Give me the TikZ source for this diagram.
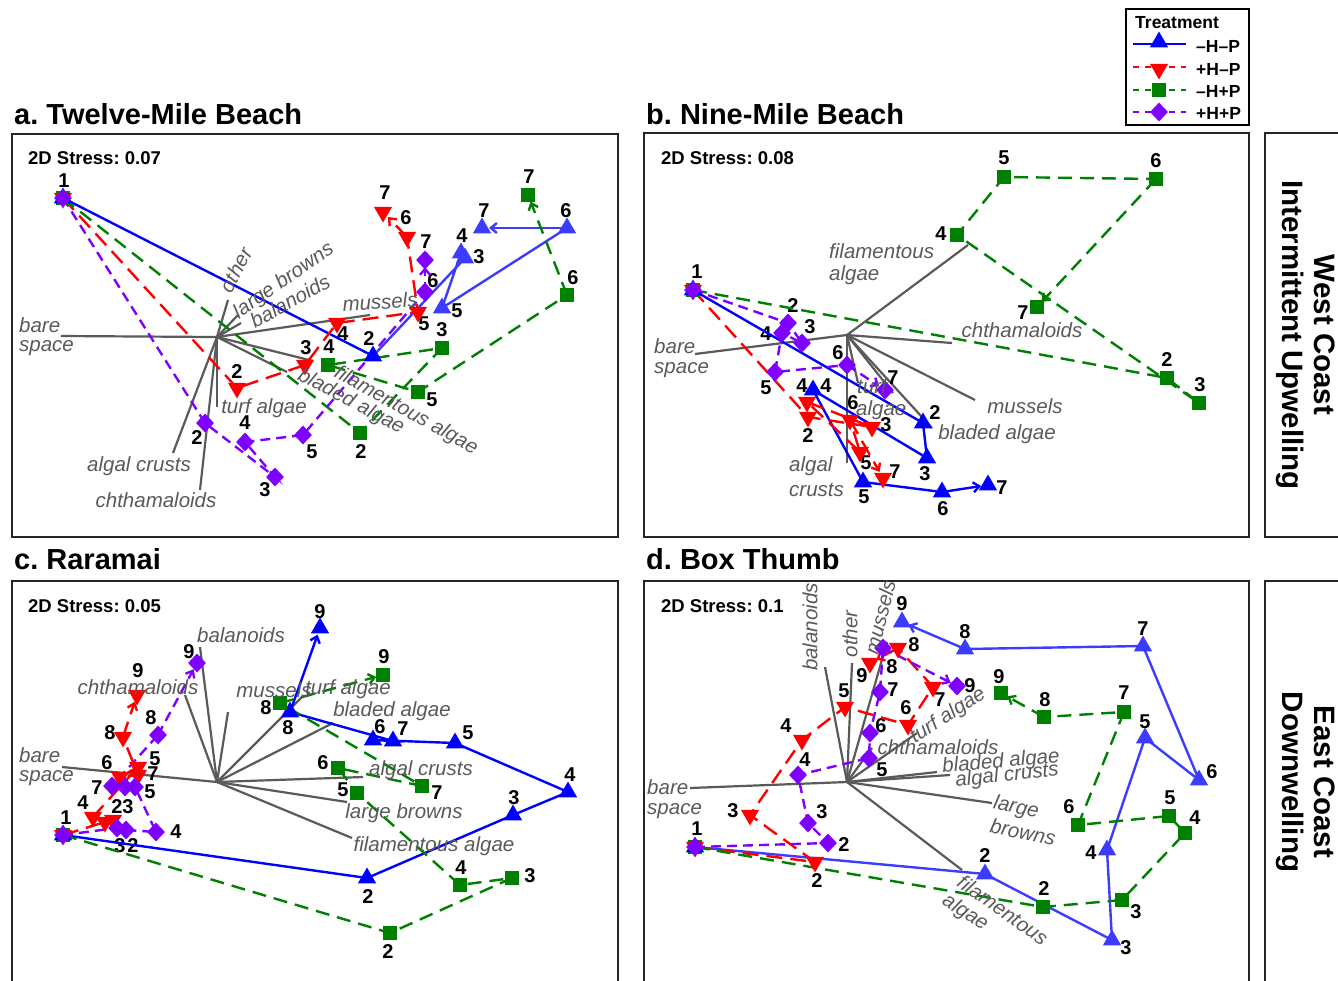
\documentclass[tikz,border=0pt]{standalone}
\usepackage{fontspec}
\setmainfont{Liberation Sans}
\usetikzlibrary{shapes.geometric,arrows.meta}
\definecolor{cB}{RGB}{0,0,255}
\definecolor{cBl}{RGB}{60,60,255}
\definecolor{cR}{RGB}{255,0,0}
\definecolor{cG}{RGB}{0,128,0}
\definecolor{cP}{RGB}{128,0,255}
\definecolor{cK}{RGB}{90,90,90}
\tikzset{
 bl/.style={cB,line width=2.4pt},
 bll/.style={cBl,line width=2.4pt},
 rd/.style={cR,line width=2.4pt,dash pattern=on 16pt off 8pt},
 gr/.style={cG,line width=2.4pt,dash pattern=on 14pt off 8pt},
 pu/.style={cP,line width=2.4pt,dash pattern=on 10pt off 6pt},
 arr/.style={-{Straight Barb[length=6pt,width=10pt]},shorten >=7pt},
 tri/.style={regular polygon,regular polygon sides=3,fill=cB,inner sep=0pt,minimum size=21pt},
 tril/.style={tri,fill=cBl},
 tdn/.style={regular polygon,regular polygon sides=3,shape border rotate=180,fill=cR,inner sep=0pt,minimum size=21pt},
 sqr/.style={rectangle,fill=cG,inner sep=0pt,minimum size=14pt},
 dia/.style={diamond,fill=cP,inner sep=0pt,minimum width=18pt,minimum height=19pt},
 num/.style={font=\fontsize{20}{20}\selectfont\bfseries,inner sep=0pt},
 spk/.style={cK,line width=2.2pt},
 vlab/.style={text=cK,font=\fontsize{20.5}{20.5}\selectfont\itshape,inner sep=0pt},
 vlw/.style={vlab,anchor=west},
 ttl/.style={font=\fontsize{29}{29}\selectfont\bfseries,inner sep=0pt,anchor=west},
 strs/.style={font=\fontsize{18.5}{18.5}\selectfont\bfseries,inner sep=0pt,anchor=west},
 frm/.style={line width=2.5pt,draw=black!85},
 side/.style={font=\fontsize{29.5}{29.5}\selectfont\bfseries,inner sep=0pt,rotate=-90},
 legt/.style={font=\fontsize{17.5}{17.5}\selectfont\bfseries,inner sep=0pt,anchor=west},
 legd/.style={dash pattern=on 6pt off 6pt},
}
\newcommand\mkpt[4]{\coordinate (#1) at (#2); \node[num] (#1n) at (#3) {#4};}
\newcommand\spoke[3]{\coordinate (#2) at (#3); \draw[spk] (#1) -- (#2);}
\frenchspacing
\begin{document}
\begin{tikzpicture}[x=1pt,y=-1pt]
\path[use as bounding box] (0,0) rectangle (1338,980);
\clip (0,0) rectangle (1338,980);
\fill[white] (0,0) rectangle (1338,980);

% ---------- titles, frames ----------
\node[ttl] (ta) at (14,114) {a. Twelve-Mile Beach};
\node[ttl] (tb) at (646,114) {b. Nine-Mile Beach};
\node[ttl] (tc) at (14,559) {c. Raramai};
\node[ttl] (td) at (646,559) {d. Box Thumb};
\draw[frm] (12,134) rectangle (618,537);
\draw[frm] (644,133) rectangle (1249,537);
\draw[frm] (12,581) rectangle (618,995);
\draw[frm] (644,581) rectangle (1249,995);
\draw[frm] (1265,133) rectangle (1350,537);
\draw[frm] (1265,581) rectangle (1350,995);
\node[side] (s1) at (1325,335) {West Coast};
\node[side] (s2) at (1290,335) {Intermittent Upwelling};
\node[side] (s3) at (1325,782) {East Coast};
\node[side] (s4) at (1290,782) {Downwelling};
\node[strs] (sa) at (28,158) {2D Stress: 0.07};
\node[strs] (sb) at (661,158) {2D Stress: 0.08};
\node[strs] (sc) at (28,606) {2D Stress: 0.05};
\node[strs] (sd) at (661,606) {2D Stress: 0.1};

% ---------- legend ----------
\draw[line width=2pt] (1126,9) rectangle (1249,125);
\node[legt] (lt) at (1135,23) {Treatment};
\coordinate (lb1) at (1133,44); \coordinate (lb2) at (1186,44);
\coordinate (lr1) at (1133,67); \coordinate (lr2) at (1186,67);
\coordinate (lg1) at (1133,90); \coordinate (lg2) at (1186,90);
\coordinate (lp1) at (1133,112); \coordinate (lp2) at (1186,112);
\draw[bl] (lb1) -- (lb2);
\draw[cR,line width=2.4pt,legd] (lr1) -- (lr2);
\draw[cG,line width=2.4pt,legd] (lg1) -- (lg2);
\draw[cP,line width=2.4pt,legd] (lp1) -- (lp2);
\node[tri] (lbm) at (1159,42) {};
\node[tdn] (lrm) at (1159,69) {};
\node[sqr] (lgm) at (1159,90) {};
\node[dia] (lpm) at (1159,112) {};
\node[legt] (lbt) at (1196,46) {–H–P};
\node[legt] (lrt) at (1196,69) {+H–P};
\node[legt] (lgt) at (1196,91) {–H+P};
\node[legt] (lpt) at (1196,113) {+H+P};

% =================== PANEL A ===================
\coordinate (ac) at (217,337);
\spoke{ac}{as1}{61,336}
\spoke{ac}{as2}{228,300}
\spoke{ac}{as3}{238,315}
\spoke{ac}{as4}{241,323}
\spoke{ac}{as5}{370,315}
\spoke{ac}{as6}{313,361}
\spoke{ac}{as7}{287,372}
\spoke{ac}{as8}{217,407}
\spoke{ac}{as9}{173,453}
\spoke{ac}{as10}{200,490}

\mkpt{a1}{63,198}{64,181}{1}
\mkpt{ab2}{373,356}{369,339}{2}
\mkpt{ab3}{465,258}{479,257}{3}
\mkpt{ab4}{461,253}{462,236}{4}
\mkpt{ab5}{442,308}{457,311}{5}
\mkpt{ab6}{567,228}{566,211}{6}
\mkpt{ab7}{482,228}{484,211}{7}
\mkpt{ar2}{237,388}{237,372}{2}
\mkpt{ar3}{305,365}{306,348}{3}
\mkpt{ar4}{337,323}{343,334}{4}
\mkpt{ar5}{418,312}{424,324}{5}
\mkpt{ar6}{407,237}{406,218}{6}
\mkpt{ar7}{383,212}{385,193}{7}
\mkpt{ag2}{360,433}{361,452}{2}
\mkpt{ag3}{442,348}{442,330}{3}
\mkpt{ag4}{328,365}{329,347}{4}
\mkpt{ag5}{418,392}{432,400}{5}
\mkpt{ag6}{567,295}{573,278}{6}
\mkpt{ag7}{528,195}{529,177}{7}
\mkpt{ap2}{205,423}{197,438}{2}
\mkpt{ap3}{275,477}{265,490}{3}
\mkpt{ap4}{245,442}{245,423}{4}
\mkpt{ap5}{303,435}{312,452}{5}
\mkpt{ap6}{425,292}{433,281}{6}
\mkpt{ap7}{425,260}{426,242}{7}

\draw[bl] (a1) -- (ab2);
\draw[bll] (ab2) -- (ab3) -- (ab4) -- (ab5) -- (ab6);
\draw[bll,arr] (ab6) -- (ab7);
\draw[rd] (a1) -- (ar2) -- (ar3) -- (ar4) -- (ar5) -- (ar6);
\draw[rd,arr] (ar6) -- (ar7);
\draw[gr] (a1) -- (ag2) -- (ag3) -- (ag4) -- (ag5) -- (ag6);
\draw[gr,arr] (ag6) -- (ag7);
\draw[pu] (a1) -- (ap2) -- (ap3) -- (ap4) -- (ap5) -- (ap6);
\draw[pu,arr] (ap6) -- (ap7);

% =================== PANEL B ===================
\coordinate (bc) at (847,335);
\spoke{bc}{bs1}{695,354}
\spoke{bc}{bs2}{968,245}
\spoke{bc}{bs3}{952,343}
\spoke{bc}{bs4}{975,400}
\spoke{bc}{bs5}{932,428}
\spoke{bc}{bs6}{858,383}
\spoke{bc}{bs7}{847,463}
\spoke{bc}{bs8}{893,393}

\mkpt{b1}{693,290}{697,272}{1}
\mkpt{bb2}{923,423}{935,413}{2}
\mkpt{bb3}{927,458}{925,474}{3}
\mkpt{bb4}{813,390}{826,386}{4}
\mkpt{bb5}{863,482}{864,497}{5}
\mkpt{bb6}{942,492}{943,509}{6}
\mkpt{bb7}{988,485}{1002,488}{7}
\mkpt{br2}{808,417}{808,436}{2}
\mkpt{br3}{872,427}{886,425}{3}
\mkpt{br4}{807,402}{802,386}{4}
\mkpt{br5}{860,452}{866,463}{5}
\mkpt{br6}{850,420}{853,403}{6}
\mkpt{br7}{883,478}{895,472}{7}
\mkpt{bg2}{1167,378}{1167,360}{2}
\mkpt{bg3}{1199,403}{1200,385}{3}
\mkpt{bg4}{957,235}{941,234}{4}
\mkpt{bg5}{1004,177}{1004,158}{5}
\mkpt{bg6}{1156,179}{1156,161}{6}
\mkpt{bg7}{1037,307}{1023,313}{7}
\mkpt{bp2}{788,323}{793,306}{2}
\mkpt{bp3}{802,343}{810,327}{3}
\mkpt{bp4}{782,333}{766,334}{4}
\mkpt{bp5}{775,372}{766,388}{5}
\mkpt{bp6}{847,365}{838,353}{6}
\mkpt{bp7}{885,390}{893,378}{7}

\draw[bl] (b1) -- (bb2) -- (bb3) -- (bb4) -- (bb5) -- (bb6);
\draw[bl,arr] (bb6) -- (bb7);
\draw[rd] (b1) -- (br2) -- (br3) -- (br4) -- (br5) -- (br6);
\draw[rd,arr] (br6) -- (br7);
\draw[gr] (b1) -- (bg2) -- (bg3) -- (bg4) -- (bg5) -- (bg6);
\draw[gr,arr] (bg6) -- (bg7);
\draw[pu] (b1) -- (bp2) -- (bp3) -- (bp4) -- (bp5) -- (bp6);
\draw[pu,arr] (bp6) -- (bp7);

% =================== PANEL C ===================
\coordinate (cc) at (217,782);
\spoke{cc}{cs1}{62,767}
\spoke{cc}{cs2}{185,695}
\spoke{cc}{cs3}{200,647}
\spoke{cc}{cs4}{228,712}
\spoke{cc}{cs5}{302,697}
\spoke{cc}{cs6}{333,723}
\spoke{cc}{cs7}{363,777}
\spoke{cc}{cs8}{347,802}
\spoke{cc}{cs9}{352,838}

\mkpt{c1}{63,835}{66,818}{1}
\mkpt{cb2}{367,878}{368,897}{2}
\mkpt{cb3}{513,815}{514,798}{3}
\mkpt{cb4}{568,792}{570,775}{4}
\mkpt{cb5}{455,743}{468,733}{5}
\mkpt{cb6}{373,740}{380,727}{6}
\mkpt{cb7}{393,741}{403,729}{7}
\mkpt{cb8}{290,712}{288,728}{8}
\mkpt{cb9}{320,628}{320,612}{9}
\mkpt{cr2}{105,822}{117,807}{2}
\mkpt{cr3}{113,820}{128,807}{3}
\mkpt{cr4}{93,817}{83,803}{4}
\mkpt{cr5}{138,767}{155,759}{5}
\mkpt{cr6}{120,777}{107,763}{6}
\mkpt{cr7}{138,775}{153,774}{7}
\mkpt{cr8}{123,737}{110,733}{8}
\mkpt{cr9}{137,695}{138,671}{9}
\mkpt{cg2}{390,933}{388,952}{2}
\mkpt{cg3}{512,878}{530,876}{3}
\mkpt{cg4}{460,885}{461,868}{4}
\mkpt{cg5}{357,793}{343,790}{5}
\mkpt{cg6}{338,768}{323,763}{6}
\mkpt{cg7}{422,786}{437,793}{7}
\mkpt{cg8}{280,703}{266,708}{8}
\mkpt{cg9}{383,675}{384,657}{9}
\mkpt{cp2}{126,830}{133,846}{2}
\mkpt{cp3}{117,828}{120,846}{3}
\mkpt{cp4}{156,832}{176,832}{4}
\mkpt{cp5}{135,787}{150,792}{5}
\coordinate (cp6) at (125,787);
\mkpt{cp7}{112,786}{97,788}{7}
\mkpt{cp8}{158,735}{151,718}{8}
\mkpt{cp9}{197,663}{189,652}{9}

\draw[bl] (c1) -- (cb2) -- (cb3) -- (cb4) -- (cb5) -- (cb6) -- (cb7) -- (cb8);
\draw[bl,arr] (cb8) -- (cb9);
\draw[rd] (c1) -- (cr2) -- (cr3) -- (cr4) -- (cr5) -- (cr6) -- (cr7) -- (cr8);
\draw[rd,arr] (cr8) -- (cr9);
\draw[gr] (c1) -- (cg2) -- (cg3) -- (cg4) -- (cg5) -- (cg6) -- (cg7) -- (cg8);
\draw[gr,arr] (cg8) -- (cg9);
\draw[pu] (c1) -- (cp3) -- (cp2) -- (cp4) -- (cp5) -- (cp6) -- (cp7) -- (cp8);
\draw[pu,arr] (cp8) -- (cp9);

% =================== PANEL D ===================
\coordinate (dc) at (847,782);
\spoke{dc}{ds1}{690,788}
\spoke{dc}{ds2}{825,667}
\spoke{dc}{ds3}{852,663}
\spoke{dc}{ds4}{887,642}
\spoke{dc}{ds5}{917,733}
\spoke{dc}{ds6}{872,748}
\spoke{dc}{ds7}{937,772}
\spoke{dc}{ds8}{950,775}
\spoke{dc}{ds9}{992,803}
\spoke{dc}{ds10}{962,870}

\mkpt{d1}{695,847}{697,829}{1}
\mkpt{db2}{985,874}{985,856}{2}
\mkpt{db3}{1112,940}{1126,948}{3}
\mkpt{db4}{1107,850}{1091,853}{4}
\mkpt{db5}{1145,738}{1145,722}{5}
\mkpt{db6}{1199,780}{1212,772}{6}
\mkpt{db7}{1143,646}{1143,629}{7}
\mkpt{db8}{965,649}{965,632}{8}
\mkpt{db9}{902,622}{902,604}{9}
\mkpt{dr2}{815,862}{817,881}{2}
\mkpt{dr3}{750,815}{733,811}{3}
\mkpt{dr4}{802,740}{786,726}{4}
\mkpt{dr5}{845,707}{844,691}{5}
\mkpt{dr6}{908,725}{906,708}{6}
\mkpt{dr7}{933,687}{940,700}{7}
\mkpt{dr8}{898,648}{914,645}{8}
\mkpt{dr9}{870,663}{862,676}{9}
\mkpt{dg2}{1043,907}{1044,889}{2}
\mkpt{dg3}{1122,900}{1136,912}{3}
\mkpt{dg4}{1185,833}{1195,818}{4}
\mkpt{dg5}{1169,816}{1170,798}{5}
\mkpt{dg6}{1078,825}{1069,807}{6}
\mkpt{dg7}{1124,712}{1124,693}{7}
\mkpt{dg8}{1044,717}{1045,700}{8}
\mkpt{dg9}{1001,693}{999,677}{9}
\mkpt{dp2}{828,843}{844,845}{2}
\mkpt{dp3}{808,823}{822,812}{3}
\mkpt{dp4}{798,775}{805,760}{4}
\mkpt{dp5}{869,758}{882,770}{5}
\mkpt{dp6}{870,733}{881,726}{6}
\mkpt{dp7}{880,692}{893,690}{7}
\mkpt{dp8}{883,648}{892,667}{8}
\mkpt{dp9}{957,686}{970,686}{9}

\draw[bll] (d1) -- (db2) -- (db3) -- (db4) -- (db5) -- (db6) -- (db7) -- (db8);
\draw[bll,arr] (db8) -- (db9);
\draw[rd] (d1) -- (dr2) -- (dr3) -- (dr4) -- (dr5) -- (dr6) -- (dr7) -- (dr8);
\draw[rd,arr] (dr8) -- (dr9);
\draw[gr] (d1) -- (dg2) -- (dg3) -- (dg4) -- (dg5) -- (dg6) -- (dg7) -- (dg8);
\draw[gr,arr] (dg8) -- (dg9);
\draw[pu] (d1) -- (dp2) -- (dp3) -- (dp4) -- (dp5) -- (dp6) -- (dp7) -- (dp8);
\draw[pu,arr] (dp8) -- (dp9);

% =================== MARKERS ===================
\foreach \q in {a1,b1,c1,d1} {
  \node[sqr] (ms\q) at (\q) {};
  \node[tri] (mt\q) at (\q) {};
  \node[tdn] (mr\q) at (\q) {};
  \node[dia] (md\q) at (\q) {};
}
\foreach \q in {ab3,ab4,ab5,ab6,ab7,db2,db3,db4,db5,db6,db7,db8,db9} \node[tril] (m\q) at (\q) {};
\foreach \q in {ab2,bb2,bb3,bb4,bb5,bb6,bb7,cb2,cb3,cb4,cb5,cb6,cb7,cb8,cb9} \node[tri] (m\q) at (\q) {};
\foreach \q in {ar2,ar3,ar4,ar5,ar6,ar7,br2,br3,br4,br5,br6,br7,cr2,cr3,cr4,cr5,cr6,cr7,cr8,cr9,dr2,dr3,dr4,dr5,dr6,dr7,dr8,dr9} \node[tdn] (m\q) at (\q) {};
\foreach \q in {ag2,ag3,ag4,ag5,ag6,ag7,bg2,bg3,bg4,bg5,bg6,bg7,cg2,cg3,cg4,cg5,cg6,cg7,cg8,cg9,dg2,dg3,dg4,dg5,dg6,dg7,dg8,dg9} \node[sqr] (m\q) at (\q) {};
\foreach \q in {ap2,ap3,ap4,ap5,ap6,ap7,bp2,bp3,bp4,bp5,bp6,bp7,cp2,cp3,cp4,cp5,cp6,cp7,cp8,cp9,dp2,dp3,dp4,dp5,dp6,dp7,dp8,dp9} \node[dia] (m\q) at (\q) {};

% =================== VARIABLE LABELS ===================
% panel a
\node[vlw] (va1) at (19,325) {bare};
\node[vlw] (va2) at (19,348) {space};
\node[vlab,rotate=62] (va3) at (236,270) {other};
\node[vlab,rotate=35] (va4) at (284,281) {large browns};
\node[vlab,rotate=29] (va5) at (290,301) {balanoids};
\node[vlab,rotate=4] (va6) at (380,302) {mussels};
\node[vlab] (va7) at (264,408) {turf algae};
\node[vlab,rotate=-28] (va8) at (351,402) {bladed algae};
\node[vlab,rotate=-29] (va9) at (406,411) {filamentous algae};
\node[vlab] (va10) at (139,466) {algal crusts};
\node[vlab] (va11) at (156,500) {chthamaloids};
% panel b
\node[vlw] (vb1) at (654,346) {bare};
\node[vlw] (vb2) at (654,370) {space};
\node[vlw] (vb3) at (829,251) {filamentous};
\node[vlw] (vb4) at (829,275) {algae};
\node[vlab] (vb5) at (1022,330) {chthamaloids};
\node[vlab] (vb6) at (1025,406) {mussels};
\node[vlab] (vb7) at (997,434) {bladed algae};
\node[vlw] (vb8) at (857,386) {turf};
\node[vlw] (vb9) at (856,410) {algae};
\node[vlw] (vb10) at (789,466) {algal};
\node[vlw] (vb11) at (789,490) {crusts};
% panel c
\node[vlw] (vc1) at (19,755) {bare};
\node[vlw] (vc2) at (19,778) {space};
\node[vlab] (vc3) at (241,635) {balanoids};
\node[vlab] (vc4) at (138,687) {chthamaloids};
\node[vlab] (vc5) at (274,690) {mussels};
\node[vlab] (vc6) at (348,689) {turf algae};
\node[vlab] (vc7) at (392,711) {bladed algae};
\node[vlab] (vc8) at (421,770) {algal crusts};
\node[vlab] (vc9) at (404,813) {large browns};
\node[vlab] (vc10) at (434,846) {filamentous algae};
% panel d
\node[vlw] (vd1) at (647,787) {bare};
\node[vlw] (vd2) at (647,811) {space};
\node[vlab,rotate=90] (vd3) at (810,627) {balanoids};
\node[vlab,rotate=90] (vd4) at (850,634) {other};
\node[vlab,rotate=76] (vd5) at (880,617) {mussels};
\node[vlab,rotate=33] (vd6) at (948,716) {turf algae};
\node[vlab] (vd7) at (938,747) {chthamaloids};
\node[vlab,rotate=5] (vd8) at (1001,762) {bladed algae};
\node[vlab,rotate=6] (vd9) at (1007,776) {algal crusts};
\node[vlab,rotate=-12] (vd10) at (1016,808) {large};
\node[vlab,rotate=-12] (vd11) at (1023,832) {browns};
\node[vlab,rotate=-35] (vd12) at (1003,910) {filamentous};
\node[vlab,rotate=-33] (vd13) at (965,913) {algae};
\end{tikzpicture}
\end{document}
